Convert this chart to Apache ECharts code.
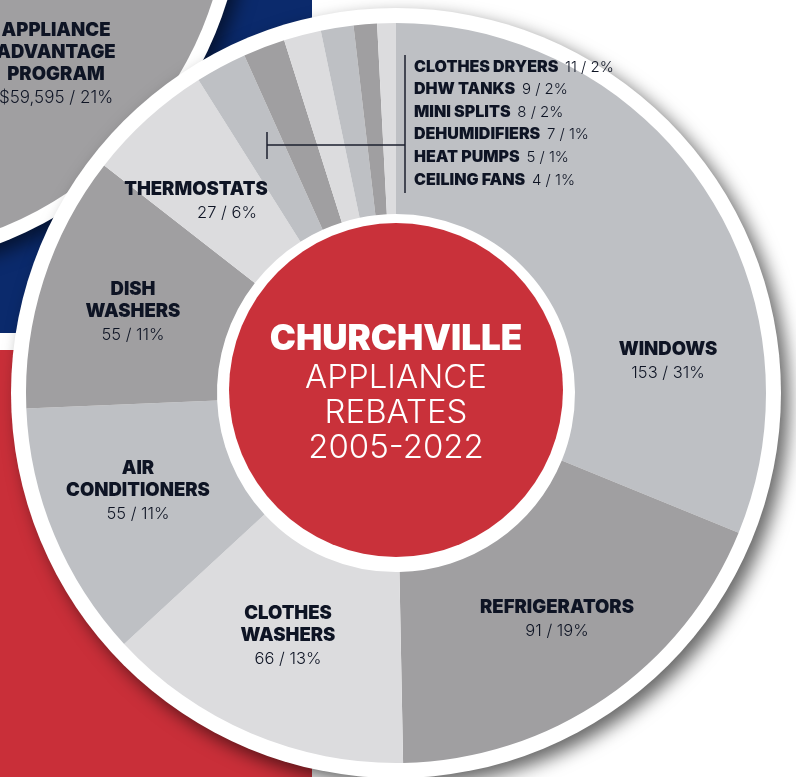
<!DOCTYPE html>
<html>
<head>
	<title>Churchville Appliance Rebates</title>
	<script src="https://cdn.jsdelivr.net/npm/echarts@6/dist/echarts.min.js"></script>
	<style>
		html, body { margin: 0; padding: 0; background: #fff; }
		#chart { width: 796px; height: 777px; }
	</style>
</head>
<body>
	<div id="chart"></div>
	<script>
		// rebate counts, clockwise from 12 o'clock
		var names = ['WINDOWS', 'REFRIGERATORS', 'CLOTHES\nWASHERS', 'AIR\nCONDITIONERS', 'DISH\nWASHERS', 'THERMOSTATS',
			'CLOTHES DRYERS', 'DHW TANKS', 'MINI SPLITS', 'DEHUMIDIFIERS', 'HEAT PUMPS', 'CEILING FANS'];
		var counts = [153, 91, 66, 55, 55, 27, 11, 9, 8, 7, 5, 4];
		var pcts = [31, 19, 13, 11, 11, 6, 2, 2, 2, 1, 1, 1];

		// the other program circle (top left)
		var programName = 'APPLIANCE\nADVANTAGE\nPROGRAM';
		var programAmount = '$59,595';
		var programPct = 21;

		var shades = ['#bec0c4', '#a09fa1', '#dcdcde'];
		var ink = '#0e1424';
		var boldFont = 'Inter';
		var lightFont = 'Inter';

		// where each label sits (big slices centred, small ones listed to the right)
		var labelPos = [
			[668, 362], [557, 620], [288, 637], [138, 492], [133, 313], [196, 202],
			[414, 67], [414, 89], [414, 112], [414, 134], [414, 157], [414, 180]
		];

		var cx = 396, cy = 393;

		var data = names.map(function (n, i) {
			return {
				name: n,
				value: counts[i],
				itemStyle: { color: shades[i % 3] }
			};
		});

		function bigLabel(p) {
			var i = p.dataIndex;
			var lines = names[i].split('\n').map(function (s) { return '{n|' + s + '}'; });
			var v = counts[i] + ' / ' + pcts[i] + '%';
			lines.push(i === 5 ? '{vo|' + v + '}' : '{v|' + v + '}');
			return lines.join('\n');
		}

		var chart = echarts.init(document.getElementById('chart'));
		var option = {
			animation: false,
			graphic: [
				{ type: 'rect', z: 0, shape: { x: 0, y: 0, width: 312, height: 333 }, style: { fill: '#0b2a6c' } },
				{ type: 'rect', z: 0, shape: { x: 0, y: 350, width: 312, height: 427 }, style: { fill: '#c92f39' } },
				{
					type: 'circle', z: 0.5, shape: { cx: -135, cy: -111, r: 379 },
					style: { fill: '#fff', shadowBlur: 18, shadowOffsetX: 7, shadowOffsetY: 7, shadowColor: 'rgba(0,0,0,0.55)' }
				},
				{
					type: 'circle', z: 1.5, shape: { cx: cx, cy: cy, r: 385 },
					style: { fill: '#fff', shadowBlur: 18, shadowOffsetX: 8, shadowOffsetY: 8, shadowColor: 'rgba(0,0,0,0.6)' }
				},
				{ type: 'circle', z: 10, shape: { cx: cx, cy: 390, r: 167 }, style: { fill: '#c9313a' } },
				{
					type: 'text', z: 11, x: cx, y: 339,
					style: { text: 'CHURCHVILLE', fill: '#fff', font: '900 35px ' + boldFont, align: 'center', verticalAlign: 'middle' }
				},
				{
					type: 'text', z: 11, x: cx, y: 413,
					style: {
						text: 'APPLIANCE\nREBATES\n2005-2022', fill: '#fff', font: '300 33px ' + lightFont,
						lineHeight: 35, align: 'center', verticalAlign: 'middle'
					}
				},
				// bracket for the small slices
				{
					type: 'polyline', z: 11,
					shape: { points: [[405, 55], [405, 193]] },
					style: { stroke: '#1b1f2e', lineWidth: 1.5 }
				},
				{
					type: 'polyline', z: 11,
					shape: { points: [[267, 145], [405, 145]] },
					style: { stroke: '#1b1f2e', lineWidth: 1.5 }
				},
				{
					type: 'polyline', z: 11,
					shape: { points: [[267, 132], [267, 159]] },
					style: { stroke: '#1b1f2e', lineWidth: 1.5 }
				}
			],
			series: [
				{
					type: 'pie',
					z: 1,
					center: [-135, -111],
					radius: [0, 365],
					silent: true,
					data: [{ name: programName, value: programPct, itemStyle: { color: '#a09fa1' } }],
					label: {
						show: true,
						position: 'inside',
						formatter: function () {
							var l = programName.split('\n').map(function (s) { return '{n|' + s + '}'; });
							l.push('{v|' + programAmount + ' / ' + programPct + '%}');
							return l.join('\n');
						},
						rich: {
							n: { fontFamily: boldFont, fontWeight: 900, fontSize: 18.5, color: ink, lineHeight: 22, align: 'center' },
							v: { fontFamily: lightFont, fontWeight: 300, fontSize: 17, color: ink, lineHeight: 26, align: 'center' }
						}
					},
					labelLine: { show: false },
					labelLayout: function () {
						return { x: 56, y: 65, align: 'center', verticalAlign: 'middle' };
					}
				},
				{
					type: 'pie',
					z: 2,
					center: [cx, cy],
					radius: [179, 370],
					startAngle: 90,
					clockwise: true,
					silent: true,
					data: data,
					label: {
						show: true,
						position: 'inside',
						formatter: function (p) {
							var i = p.dataIndex;
							if (i >= 6) {
								return '{s|' + names[i] + '}  {w|' + counts[i] + ' / ' + pcts[i] + '%}';
							}
							return bigLabel(p);
						},
						rich: {
							n: { fontFamily: boldFont, fontWeight: 900, fontSize: 18.5, color: ink, lineHeight: 22, align: 'center' },
							v: { fontFamily: lightFont, fontWeight: 300, fontSize: 16.5, color: ink, lineHeight: 26, align: 'center' },
							vo: { fontFamily: lightFont, fontWeight: 300, fontSize: 16.5, color: ink, lineHeight: 26, padding: [0, 0, 0, 62] },
							s: { fontFamily: boldFont, fontWeight: 900, fontSize: 16, color: ink },
							w: { fontFamily: lightFont, fontWeight: 300, fontSize: 15, color: ink }
						}
					},
					labelLine: { show: false },
					labelLayout: function (p) {
						var pos = labelPos[p.dataIndex];
						return {
							x: pos[0], y: pos[1],
							align: p.dataIndex >= 6 ? 'left' : 'center',
							verticalAlign: 'middle'
						};
					}
				}
			]
		};
		chart.setOption(option);
	</script>
</body>
</html>
